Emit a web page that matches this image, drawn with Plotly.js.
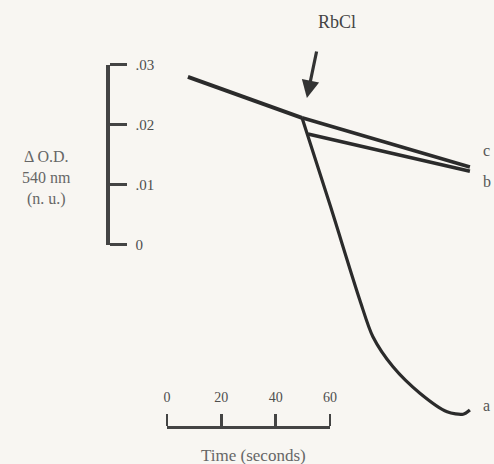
<!DOCTYPE html>
<html>
<head>
<meta charset="utf-8">
<script src="https://cdn.plot.ly/plotly-3.0.1.min.js"></script>
<style>
  html, body { margin: 0; padding: 0; background: #f8f6f2; }
  #chart { width: 494px; height: 464px; }
</style>
</head>
<body>
<div id="chart"></div>
<script>
// Absorbance change at 540 nm versus time; RbCl added at ~50 s.
const timeBefore = [7.7, 49.7];
const odBefore = [0.0280, 0.0212];

const timeC = [49.7, 111.5];
const odC = [0.0212, 0.0130];

const timeB = [51.9, 111.5];
const odB = [0.0185, 0.0123];

const timeA = [49.7, 60.0, 71.0, 75.8, 83.2, 93.1, 103.1, 109.0, 111.5];
const odA = [0.0212, 0.0067, -0.0092, -0.0153, -0.0203, -0.0247, -0.0278, -0.0282, -0.0275];

const odTickVals = [0.03, 0.02, 0.01, 0];
const odTickText = ['.03', '.02', '.01', '0'];
const timeTickVals = [0, 20, 40, 60];
const timeTickText = ['0', '20', '40', '60'];

const curveLabels = ['a', 'b', 'c'];

// Frame of the drawing, in data units
const W = 494, H = 464;
const xRange = [-61.47, 120.37];
const yRange = [-0.0365, 0.04083];
const fx = v => (v - xRange[0]) / (xRange[1] - xRange[0]);
const fy = v => (v - yRange[0]) / (yRange[1] - yRange[0]);

const ink = '#2b2b2b';
const line = (x, y, w, shape) => ({
  x: x, y: y, mode: 'lines', type: 'scatter', xaxis: 'x', yaxis: 'y',
  line: { color: ink, width: w, shape: shape || 'linear', smoothing: 0.8 },
  hoverinfo: 'skip', showlegend: false
});

const data = [
  line(timeBefore, odBefore, 4),
  line(timeC, odC, 3.5),
  line(timeB, odB, 3.5),
  line(timeA, odA, 3.2, 'spline'),
  // empty trace so the two scale-bar axes get drawn
  { x: [null], y: [null], xaxis: 'x2', yaxis: 'y2', type: 'scatter', mode: 'lines',
    hoverinfo: 'skip', showlegend: false }
];

const serif = 'Liberation Serif, Times New Roman, serif';
const labelFont = { family: serif, size: 16, color: '#555555' };

const layout = {
  width: W, height: H,
  margin: { l: 0, r: 0, t: 0, b: 0 },
  paper_bgcolor: '#f8f6f2',
  plot_bgcolor: 'rgba(0,0,0,0)',
  showlegend: false,
  xaxis: { range: xRange, domain: [0, 1], visible: false, fixedrange: true },
  yaxis: { range: yRange, domain: [0, 1], visible: false, fixedrange: true },
  // Time scale bar, sized to the same seconds-per-pixel as the curves
  xaxis2: {
    anchor: 'free',
    domain: [fx(0), fx(60)], range: [0, 60],
    position: (H - 427) / H, side: 'top',
    showline: true, linewidth: 3, linecolor: '#444444',
    ticks: 'outside', ticklen: 12, tickwidth: 2.5, tickcolor: '#444444',
    tickvals: timeTickVals, ticktext: timeTickText,
    ticklabelstandoff: 6,
    tickfont: { family: serif, size: 14, color: '#4e4e4e' },
    showgrid: false, zeroline: false, fixedrange: true
  },
  // Absorbance scale bar
  yaxis2: {
    anchor: 'free',
    domain: [fy(0), fy(0.03)], range: [0, 0.03],
    position: 107 / W, side: 'right',
    showline: true, linewidth: 3.5, linecolor: '#444444',
    ticks: 'outside', ticklen: 17, tickwidth: 3, tickcolor: '#444444',
    tickvals: odTickVals, ticktext: odTickText,
    ticklabelstandoff: 6,
    tickfont: { family: serif, size: 15, color: '#4e4e4e' },
    showgrid: false, zeroline: false, fixedrange: true
  },
  annotations: [
    {
      xref: 'paper', yref: 'paper', x: 46 / W, y: 1 - 178 / H,
      text: '\u0394 O.D.<br>540 nm<br>(n. u.)',
      showarrow: false, xanchor: 'center', yanchor: 'middle', align: 'center',
      font: { family: serif, size: 16, color: '#666666' }
    },
    {
      xref: 'paper', yref: 'paper', x: 254 / W, y: 1 - 455 / H,
      text: 'Time (seconds)',
      showarrow: false, xanchor: 'center', yanchor: 'middle',
      font: { family: serif, size: 17, color: '#666666' }
    },
    {
      xref: 'paper', yref: 'paper', x: 337 / W, y: 1 - 22 / H,
      text: 'RbCl',
      showarrow: false, xanchor: 'center', yanchor: 'middle',
      font: { family: serif, size: 18, color: '#444444' }
    },
    {
      xref: 'x', yref: 'y', x: 51.5, y: 0.0245,
      text: '', showarrow: true, ax: 10, ay: -48,
      arrowhead: 2, arrowsize: 1.1, arrowwidth: 3.2, arrowcolor: '#333333'
    },
    {
      xref: 'paper', yref: 'paper', x: 481 / W, y: 1 - 405 / H,
      text: curveLabels[0], showarrow: false, xanchor: 'left', yanchor: 'middle',
      font: labelFont
    },
    {
      xref: 'paper', yref: 'paper', x: 481 / W, y: 1 - 182 / H,
      text: curveLabels[1], showarrow: false, xanchor: 'left', yanchor: 'middle',
      font: labelFont
    },
    {
      xref: 'paper', yref: 'paper', x: 481 / W, y: 1 - 150 / H,
      text: curveLabels[2], showarrow: false, xanchor: 'left', yanchor: 'middle',
      font: labelFont
    }
  ]
};

Plotly.newPlot('chart', data, layout, { staticPlot: true, displayModeBar: false });
</script>
</body>
</html>
